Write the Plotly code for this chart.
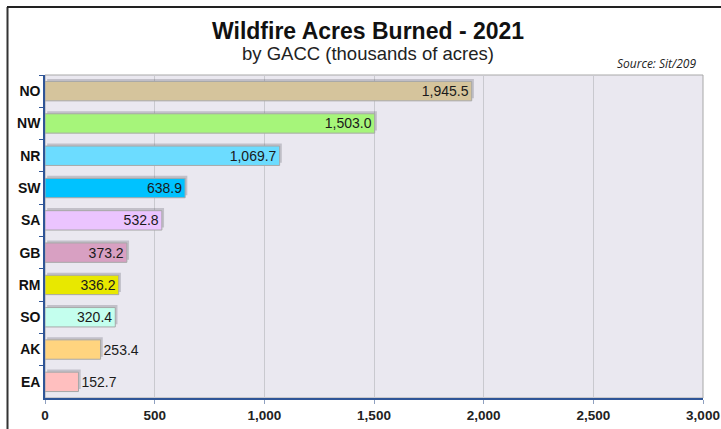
import plotly.graph_objects as go

regions = ["NO", "NW", "NR", "SW", "SA", "GB", "RM", "SO", "AK", "EA"]
acres = [1945.5, 1503.0, 1069.7, 638.9, 532.8, 373.2, 336.2, 320.4, 253.4, 152.7]
bar_colors = ["#D5C49C", "#A6F57A", "#6CDCFF", "#00C2FF", "#EBC4FF",
              "#D8A0C2", "#E8E800", "#C4FFEE", "#FFD47F", "#FFBFBF"]
text_pos = ["inside"] * 8 + ["outside"] * 2
x_ticks = [0, 500, 1000, 1500, 2000, 2500, 3000]
x_tick_labels = ["0", "500", "1,000", "1,500", "2,000", "2,500", "3,000"]

W, H = 721, 429
L, R, T, B = 45, 18, 75, 31
pw, ph = W - L - R, H - T - B

def px(xp):
    return (xp - L) / pw

def py(yp):
    return 1 - (yp - T) / ph

FONT = "Arial, Liberation Sans"

fig = go.Figure()

# shadow
fig.add_trace(go.Bar(
    y=regions, x=acres, base=10, orientation="h",
    marker=dict(color="rgba(90,90,100,0.28)", line=dict(width=0)),
    width=0.6, offset=-0.38, hoverinfo="skip", showlegend=False,
))

fig.add_trace(go.Bar(
    y=regions, x=acres, orientation="h",
    marker=dict(color=bar_colors, line=dict(color="#A8A8A8", width=1)),
    width=0.6, offset=-0.3,
    text=[f"{v:,.1f}" for v in acres],
    textposition=text_pos, insidetextanchor="end",
    textfont=dict(family=FONT, size=14, color="#1a1a1a"),
    cliponaxis=False, showlegend=False,
))

fig.update_layout(
    width=W, height=H,
    margin=dict(l=L, r=R, t=T, b=B, autoexpand=False),
    paper_bgcolor="white", plot_bgcolor="#EAE8F0",
    barmode="overlay",
    uniformtext=dict(minsize=14, mode="show"),
    font=dict(family=FONT),
    xaxis=dict(range=[0, 3000], tickvals=x_ticks, ticktext=x_tick_labels,
               automargin=False,
               showgrid=True, gridcolor="#C9C9CF", gridwidth=1,
               zeroline=False, showline=True, linecolor="#2F5597", linewidth=1.5,
               ticks="outside", ticklen=4, tickcolor="#8FA0C0",
               tickfont=dict(family=FONT, size=13.5, color="#222", weight="bold")),
    yaxis=dict(autorange="reversed", showgrid=False, zeroline=False,
               automargin=False,
               showline=True, linecolor="#2F5597", linewidth=1.5,
               ticks="outside", ticklen=4, tickcolor="#2F5597",
               tickson="boundaries",
               tickfont=dict(family=FONT, size=14, color="#111", weight="bold")),
    annotations=[
        dict(text="<b>Wildfire Acres Burned - 2021</b>", x=px(368), y=py(31),
             xref="paper", yref="paper", showarrow=False,
             xanchor="center", yanchor="middle",
             font=dict(family=FONT, size=23, color="#111")),
        dict(text="by GACC (thousands of acres)", x=px(368), y=py(53),
             xref="paper", yref="paper", showarrow=False,
             xanchor="center", yanchor="middle",
             font=dict(family=FONT, size=18.5, color="#222")),
        dict(text="<i>Source: Sit/209</i>", x=px(698), y=py(63),
             xref="paper", yref="paper", showarrow=False,
             xanchor="right", yanchor="middle",
             font=dict(family="Open Sans", size=12, color="#222")),
    ],
    shapes=[
        dict(type="rect", xref="paper", yref="paper", x0=0, x1=1, y0=0, y1=1,
             line=dict(color="#A8A8A8", width=1), layer="below"),
        dict(type="line", xref="paper", yref="paper", x0=px(7.5), x1=px(7.5), y0=py(7), y1=py(440),
             line=dict(color="#333", width=2)),
        dict(type="line", xref="paper", yref="paper", x0=px(7), x1=px(730), y0=py(7), y1=py(7),
             line=dict(color="#222", width=2)),
    ],
)

fig.write_html("out.html", config={"displayModeBar": False},
               post_script="document.body.style.margin='0';document.body.style.overflow='hidden';")
